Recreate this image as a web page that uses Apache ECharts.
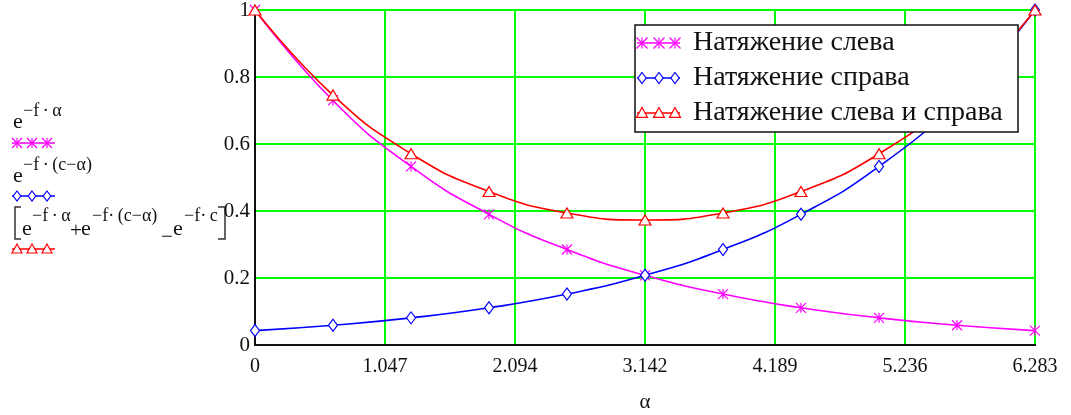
<!DOCTYPE html>
<html>
<head>
<meta charset="utf-8">
<script src="https://cdn.jsdelivr.net/npm/echarts@6/dist/echarts.min.js"></script>
<style>
    html, body { margin: 0; padding: 0; background: #fff; }
    #chart { width: 1071px; height: 415px; }
</style>
</head>
<body>
<div id="chart"></div>
<script>
    // alpha values at the plotted markers
    var alphaValues = [0, 0.628, 1.257, 1.885, 2.513, 3.142, 3.770, 4.398, 5.027, 5.655, 6.283];
    var leftTension = [1, 0.730, 0.533, 0.390, 0.285, 0.208, 0.152, 0.111, 0.081, 0.059, 0.043];
    var rightTension = [0.043, 0.059, 0.081, 0.111, 0.152, 0.208, 0.285, 0.390, 0.533, 0.730, 1];
    var bothTension = [1, 0.746, 0.571, 0.458, 0.394, 0.373, 0.394, 0.458, 0.571, 0.746, 1];
    var seriesNames = ['Натяжение слева', 'Натяжение справа', 'Натяжение слева и справа'];

    var serif = '"Liberation Serif", "Times New Roman", serif';
    var txt = '#111';
    var step = Math.PI / 3;
    var xMax = 0;
    for (var i = 0; i < 6; i++) { xMax += step; }

    var pairs = function (ys) {
        return alphaValues.map(function (a, i) { return [a, ys[i]]; });
    };

    // small marker drawings for the legend and the left notes
    var marker = function (kind, cx, cy, s, color) {
        var h = s / 2;
        var st = { stroke: color, fill: '#fff', lineWidth: 1.2 };
        if (kind === 'x') {
            return [
                { type: 'line', shape: { x1: cx - h, y1: cy - h, x2: cx + h, y2: cy + h }, style: st },
                { type: 'line', shape: { x1: cx + h, y1: cy - h, x2: cx - h, y2: cy + h }, style: st },
                { type: 'line', shape: { x1: cx, y1: cy - h, x2: cx, y2: cy + h }, style: st }
            ];
        }
        if (kind === 'd') {
            return [{ type: 'polygon', shape: { points: [[cx, cy - h], [cx + h * 0.75, cy], [cx, cy + h], [cx - h * 0.75, cy]] }, style: st }];
        }
        return [{ type: 'polygon', shape: { points: [[cx, cy - h], [cx + h, cy + h * 0.8], [cx - h, cy + h * 0.8]] }, style: st }];
    };
    var markerRow = function (kind, x1, x2, y, s, color, xs) {
        var els = [{ type: 'line', shape: { x1: x1, y1: y, x2: x2, y2: y }, style: { stroke: color, lineWidth: 1.5 } }];
        xs.forEach(function (x) { els = els.concat(marker(kind, x, y, s, color)); });
        return els;
    };
    // text placed by its baseline
    var t = function (x, base, text, size) {
        return { type: 'text', x: x, y: base - size * 0.3, style: { text: text, font: size + 'px ' + serif, fill: txt, verticalAlign: 'middle' } };
    };
    var th = '\u2009';

    var graphics = [];
    // left notes (Mathcad trace names)
    graphics.push(t(13, 129, 'e', 22), t(23, 117, '−f' + th + '·' + th + 'α', 18));
    graphics = graphics.concat(markerRow('x', 12, 55, 143, 10, '#ff00ff', [17, 32, 47]));
    graphics.push(t(13, 183, 'e', 22), t(23, 171, '−f' + th + '·' + th + '(c−α)', 18));
    graphics = graphics.concat(markerRow('d', 12, 55, 196, 10, '#0000ff', [17, 32, 47]));
    graphics.push(
        { type: 'polyline', shape: { points: [[21, 207], [15, 207], [15, 239], [21, 239]] }, style: { stroke: '#333', lineWidth: 1.5, fill: null } },
        t(22, 236, 'e', 22), t(32, 222, '−f' + th + '·' + th + 'α', 18),
        t(70, 238, '+', 21),
        t(81, 236, 'e', 22), t(92, 222, '−f·' + th + '(c−α)', 18),
        t(161, 244, '−', 21),
        t(173, 236, 'e', 22), t(184, 222, '−f·' + th + 'c', 18),
        { type: 'polyline', shape: { points: [[218, 207], [225, 207], [225, 239], [218, 239]] }, style: { stroke: '#333', lineWidth: 1.5, fill: null } }
    );
    graphics = graphics.concat(markerRow('t', 12, 55, 249, 10, '#ff0000', [17, 32, 47]));

    // legend box
    graphics.push({ type: 'rect', shape: { x: 635, y: 25, width: 383, height: 107 }, style: { fill: '#fff', stroke: '#111', lineWidth: 1.5 }, z: 100 });
    var legendKinds = ['x', 'd', 't'];
    var legendColors = ['#ff00ff', '#0000ff', '#ff0000'];
    [43, 78, 113].forEach(function (y, k) {
        markerRow(legendKinds[k], 637, 680, y, 11, legendColors[k], [642, 659, 675]).forEach(function (e) {
            e.z = 101; graphics.push(e);
        });
        graphics.push({ type: 'text', x: 693, y: y, z: 101, style: { text: seriesNames[k], font: '28px ' + serif, fill: txt, verticalAlign: 'middle' } });
    });

    var mkSeries = function (name, ys, color, symbol, size) {
        return {
            name: name,
            type: 'line',
            data: pairs(ys),
            smooth: true,
            symbol: symbol,
            symbolSize: size,
            showAllSymbol: true,
            clip: false,
            lineStyle: { color: color, width: 1.6 },
            itemStyle: { color: '#fff', borderColor: color, borderWidth: 1.2 },
            animation: false
        };
    };

    var chart = echarts.init(document.getElementById('chart'));
    chart.setOption({
        animation: false,
        grid: {
            left: 255, right: 36, top: 10, bottom: 70, outerBoundsMode: 'none', containLabel: false,
            show: true, borderColor: '#111', borderWidth: 2, backgroundColor: '#fff'
        },
        xAxis: {
            type: 'value', min: 0, max: xMax, interval: step,
            name: 'α', nameLocation: 'middle', nameGap: 47,
            nameTextStyle: { fontFamily: serif, fontSize: 21, color: txt },
            axisLine: { show: true, lineStyle: { color: '#111', width: 2 } },
            axisTick: { show: false },
            axisLabel: { fontFamily: serif, fontSize: 20, color: txt, margin: 12, formatter: function (v) { return v === 0 ? '0' : v.toFixed(3); } },
            splitLine: { show: true, lineStyle: { color: '#00ff00', width: 2 } }
        },
        yAxis: {
            type: 'value', min: 0, max: 1, interval: 0.2,
            axisLine: { show: true, lineStyle: { color: '#111', width: 2 } },
            axisTick: { show: false },
            axisLabel: { fontFamily: serif, fontSize: 21, color: txt, margin: 5 },
            splitLine: { show: true, lineStyle: { color: '#00ff00', width: 2 } }
        },
        graphic: graphics,
        series: [
            mkSeries(seriesNames[0], leftTension, '#ff00ff', 'path://M0,0L10,10M10,0L0,10M5,0L5,10', 10),
            mkSeries(seriesNames[1], rightTension, '#0000ff', 'diamond', [9, 12]),
            mkSeries(seriesNames[2], bothTension, '#ff0000', 'triangle', [12, 10])
        ]
    });
</script>
</body>
</html>
